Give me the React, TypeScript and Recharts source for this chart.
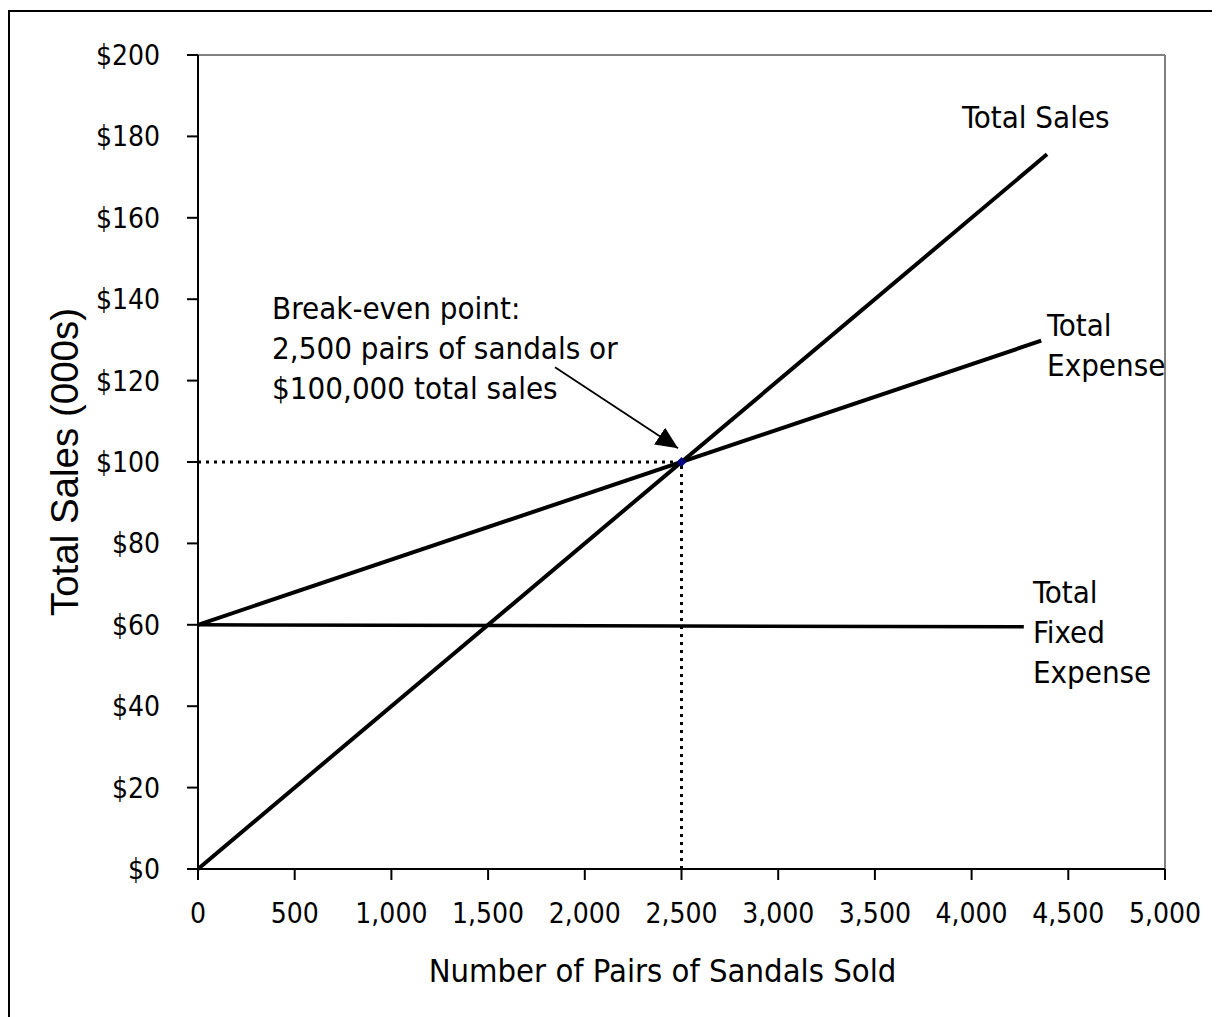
import React from 'react';
import { ComposedChart, Line, XAxis, YAxis, ReferenceLine, Scatter, ReferenceDot } from 'recharts';

const xTicks = [0, 500, 1000, 1500, 2000, 2500, 3000, 3500, 4000, 4500, 5000];
const yTicks = [0, 20, 40, 60, 80, 100, 120, 140, 160, 180, 200];

const totalSales = [{ x: 0, y: 0 }, { x: 4390, y: 175.6 }];
const totalExpense = [{ x: 0, y: 60 }, { x: 4360, y: 129.8 }];
const fixedExpense = [{ x: 0, y: 60 }, { x: 4270, y: 59.5 }];
const breakEvenH = [{ x: 0, y: 100 }, { x: 2500, y: 100 }];
const breakEvenV = [{ x: 2500, y: 0 }, { x: 2500, y: 100 }];
const breakEvenPoint = [{ x: 2500, y: 100 }];
const arrowLine = [{ x: 1846, y: 123.3 }, { x: 2482, y: 103.4 }];

const annotations = [
  { x: 3950, y: 182, lines: ['Total Sales'] },
  { x: 4390, y: 131, lines: ['Total', 'Expense'] },
  { x: 4317, y: 65.4, lines: ['Total', 'Fixed', 'Expense'] },
  { x: 383, y: 135.1, lines: ['Break-even point:', '2,500 pairs of sandals or', '$100,000 total sales'] },
];

const TAHOMA = "'DejaVu Sans Condensed', 'DejaVu Sans', sans-serif";
const ARIAL = "'Liberation Sans', Arial, sans-serif";

const fmtX = (v: number) => v.toLocaleString('en-US');
const fmtY = (v: number) => '$' + v;

const makeLabel = (lines: string[]) => (props: any) => {
  const vb = props.viewBox || {};
  const x = (vb.x || 0) + (vb.width || 0) / 2;
  const y = (vb.y || 0) + (vb.height || 0) / 2;
  return (
    <text x={x} y={y} fontFamily={TAHOMA} fontSize={31} fill="#000" style={{ fontStretch: 'condensed' }}>
      {lines.map((l, i) => (
        <tspan key={i} x={x} dy={i === 0 ? 0 : 40}>{l}</tspan>
      ))}
    </text>
  );
};

const Diamond = (props: any) => {
  const { cx, cy } = props;
  const s = 5;
  return <path d={`M${cx},${cy - s} L${cx + s},${cy} L${cx},${cy + s} L${cx - s},${cy} Z`} fill="#000080" />;
};

export default function App() {
  return (
    <div style={{ position: 'relative', width: 1212, height: 1009 }}>
      <div
        style={{
          position: 'absolute', left: 0, top: 2, width: 1212, height: 1007, boxSizing: 'border-box',
          borderTop: '2px solid #000', borderLeft: '2px solid #000', borderRight: '2px solid #000',
        }}
      />
      <div style={{ position: 'absolute', left: 0, top: 0 }}>
        <ComposedChart width={1212} height={1009} margin={{ top: 47, right: 55, bottom: 48, left: 0 }}>
          <defs>
            <marker id="arrowHead" markerUnits="userSpaceOnUse" markerWidth="24" markerHeight="20" refX="22" refY="10" orient="auto">
              <path d="M0,0 L22,10 L0,20 Z" fill="#000" />
            </marker>
          </defs>
          <XAxis
            type="number"
            dataKey="x"
            domain={[0, 5000]}
            ticks={xTicks}
            tickFormatter={fmtX}
            interval={0}
            height={100}
            stroke="#000"
            strokeWidth={2}
            tickSize={11}
            tickMargin={23}
            tick={{ fill: '#000', fontSize: 28, fontFamily: TAHOMA, style: { fontStretch: 'condensed' } } as any}
            label={(p: any) => {
              const vb = p.viewBox || {};
              return (
                <text x={vb.x + vb.width / 2 - 19} y={974} textAnchor="middle" fontFamily={TAHOMA} fontSize={32.5} fill="#000" style={{ fontStretch: 'condensed' }}>
                  Number of Pairs of Sandals Sold
                </text>
              );
            }}
          />
          <YAxis
            type="number"
            dataKey="y"
            domain={[0, 200]}
            ticks={yTicks}
            tickFormatter={fmtY}
            interval={0}
            width={190}
            stroke="#000"
            strokeWidth={2}
            tickSize={11}
            tickMargin={27}
            tick={{ fill: '#000', fontSize: 28, fontFamily: TAHOMA, style: { fontStretch: 'condensed' } } as any}
            label={(p: any) => {
              const vb = p.viewBox || {};
              const cy = vb.y + vb.height / 2;
              return (
                <text x={70} y={cy} textAnchor="middle" fontFamily={ARIAL} fontSize={38.5} fill="#000" transform={`rotate(-90, 70, ${cy})`}>
                  Total Sales (000s)
                </text>
              );
            }}
          />
          <ReferenceLine y={200} stroke="#808080" strokeWidth={2} />
          <ReferenceLine x={5000} stroke="#808080" strokeWidth={2} />
          <Line data={breakEvenH} dataKey="y" stroke="#000" strokeWidth={3} strokeDasharray="3 5" dot={false} activeDot={false} isAnimationActive={false} />
          <Line data={breakEvenV} dataKey="y" stroke="#000" strokeWidth={3} strokeDasharray="3 5" dot={false} activeDot={false} isAnimationActive={false} />
          <Scatter data={breakEvenPoint} dataKey="y" shape={Diamond} isAnimationActive={false} />
          <Line data={fixedExpense} dataKey="y" stroke="#000" strokeWidth={3.5} dot={false} activeDot={false} isAnimationActive={false} />
          <Line data={totalExpense} dataKey="y" stroke="#000" strokeWidth={4} dot={false} activeDot={false} isAnimationActive={false} />
          <Line data={totalSales} dataKey="y" stroke="#000" strokeWidth={4} dot={false} activeDot={false} isAnimationActive={false} />
          <Line data={arrowLine} dataKey="y" stroke="#000" strokeWidth={1.8} dot={false} activeDot={false} markerEnd="url(#arrowHead)" isAnimationActive={false} />
          {annotations.map((a, i) => (
            <ReferenceDot key={i} x={a.x} y={a.y} r={0} fill="none" stroke="none" label={makeLabel(a.lines)} />
          ))}
        </ComposedChart>
      </div>
    </div>
  );
}
